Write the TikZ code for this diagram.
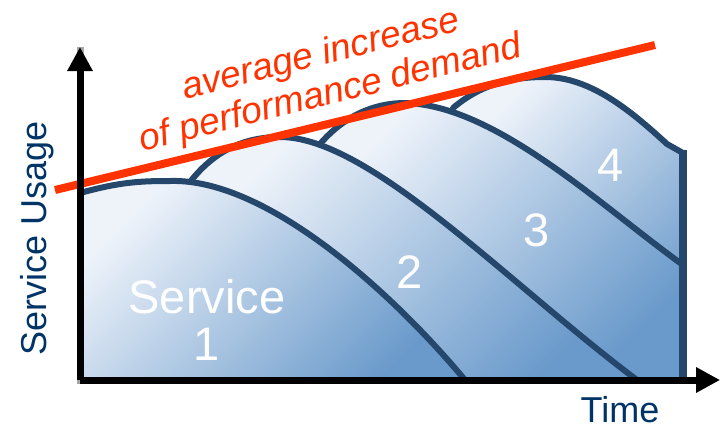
\documentclass[tikz,border=0pt]{standalone}
\usepackage{fontspec}
\setmainfont{Liberation Sans}
\usetikzlibrary{arrows.meta}
\definecolor{curveblue}{HTML}{24476B}
\definecolor{labelblue}{HTML}{003366}
\definecolor{demandred}{HTML}{FF3300}
\definecolor{fadelight}{HTML}{EEF3FA}
\definecolor{fadedark}{HTML}{6A9ACB}
\begin{document}
\begin{tikzpicture}[x=1pt, y=-1pt,
	servicefill/.style={top color=fadelight, bottom color=fadedark, shading angle=45},
	serviceline/.style={curveblue, line width=6pt, line cap=round, line join=round},
	axisline/.style={line width=7pt, -{Triangle[width=24pt,length=24pt]}},
	whitelabel/.style={white, font=\fontsize{47}{47}\selectfont},
	axislabel/.style={labelblue, font=\fontsize{36}{36}\selectfont}]
	\useasboundingbox (0,0) rectangle (720,429);

	\coordinate (origin) at (80,380);
	\coordinate (ytip) at (80,47);
	\coordinate (xtip) at (720,380);

	% services, back to front
	\shade[servicefill] (453,108) .. controls (480,85) and (510,77) .. (545,77) .. controls (590,77) and (630,110) .. (667,144) -- (683,153) -- (683,380) -- (453,380) -- cycle;
	\shade[servicefill] (320,144) .. controls (345,115) and (375,103) .. (405,103) .. controls (495,105) and (600,205) .. (683,265) -- (683,380) -- (320,380) -- cycle;
	\shade[servicefill] (190,182) .. controls (215,150) and (245,137) .. (280,137) .. controls (370,137) and (510,285) .. (637,380) -- (190,380) -- cycle;
	\shade[servicefill] (80,193) .. controls (120,182) and (140,181) .. (170,181) .. controls (265,178) and (390,290) .. (465,380) -- (80,380) -- cycle;

	\draw[serviceline] (453,108) .. controls (480,85) and (510,77) .. (545,77) .. controls (590,77) and (630,110) .. (667,144) -- (683,153);
	\draw[serviceline] (320,144) .. controls (345,115) and (375,103) .. (405,103) .. controls (495,105) and (600,205) .. (683,265);
	\draw[serviceline] (190,182) .. controls (215,150) and (245,137) .. (280,137) .. controls (370,137) and (510,285) .. (637,380);
	\draw[serviceline] (80,193) .. controls (120,182) and (140,181) .. (170,181) .. controls (265,178) and (390,290) .. (465,380);
	\draw[curveblue, line width=8pt] (683,150) -- (683,380);

	% demand trend
	\draw[demandred, line width=8pt] (55,190) -- (655,45);
	\node[demandred, rotate=14, align=center, font=\fontsize{37}{40}\selectfont\itshape] (demand) at (326,75) {average increase\\of performance demand};

	% axes with shadow
	\draw[axisline, gray!70, shift={(3,3)}] (ytip) |- (xtip);
	\draw[axisline, black] (ytip |- origin) -- (ytip);
	\draw[axisline, black] (origin) -- (xtip);

	\node[axislabel, rotate=90] (usage) at (37,238) {Service Usage};
	\node[axislabel] (time) at (620,410) {Time};

	\node[whitelabel, align=center] (s1) at (207,320) {Service\\1};
	\node[whitelabel] (s2) at (410,272) {2};
	\node[whitelabel] (s3) at (537,230) {3};
	\node[whitelabel] (s4) at (611,165) {4};
\end{tikzpicture}
\end{document}
